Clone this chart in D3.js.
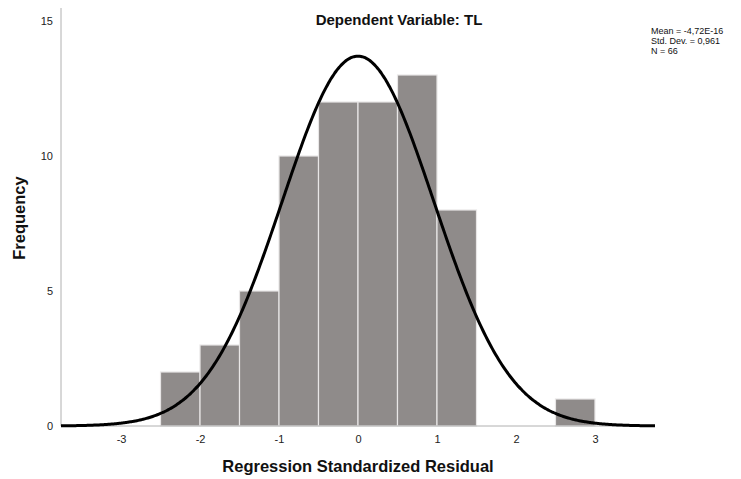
<!DOCTYPE html>
<html>
<head>
<meta charset="utf-8">
<script src="https://cdn.jsdelivr.net/npm/d3@7"></script>
<style>
  body { margin: 0; background: #fff; }
  svg { display: block; font-family: Arial, "Liberation Sans", sans-serif; }
</style>
</head>
<body>
<svg id="chart" width="741" height="479"></svg>
<script>
// Histogram of regression standardized residuals (bin width 0.5)
const binStarts = [-2.5, -2.0, -1.5, -1.0, -0.5, 0.0, 0.5, 1.0, 2.5];
const binCounts = [2, 3, 5, 10, 12, 12, 13, 8, 1];
const binWidth = 0.5;
const xTicks = [-3, -2, -1, 0, 1, 2, 3];
const yTicks = [0, 5, 10, 15];
const mean = -4.72e-16;
const stdDev = 0.961;
const n = 66;
const statLines = ["Mean = -4,72E-16", "Std. Dev. = 0,961", "N = 66"];

const svg = d3.select("#chart");
const x = d3.scaleLinear().domain([-3.76, 3.76]).range([61, 655]);
const y = d3.scaleLinear().domain([0, 15]).range([426, 21]);

// bars
svg.append("g").selectAll("rect")
  .data(binStarts.map((s, i) => ({ s, c: binCounts[i] })))
  .join("rect")
  .attr("x", d => x(d.s))
  .attr("y", d => y(d.c))
  .attr("width", d => x(d.s + binWidth) - x(d.s))
  .attr("height", d => y(0) - y(d.c))
  .attr("fill", "#8f8b8a")
  .attr("stroke", "#e8e6e6")
  .attr("stroke-width", 1.2);

// axes (plain hyphen for negative labels)
const xAxis = d3.axisBottom(x).tickValues(xTicks).tickSize(0).tickPadding(9).tickFormat(d => String(d));
const yAxis = d3.axisLeft(y).tickValues(yTicks).tickSize(0).tickPadding(8).tickFormat(d => String(d));

const gx = svg.append("g").attr("transform", `translate(0,${y(0)})`).call(xAxis);
gx.select(".domain").attr("d", `M${x.range()[0]},0H${x.range()[1]}`).attr("stroke", "#b0b0b0");
gx.selectAll("text").attr("font-size", 11).attr("fill", "#222");

const gy = svg.append("g").attr("transform", `translate(${x.range()[0]},0)`).call(yAxis);
gy.select(".domain").attr("d", `M0,${y(0)}V8`).attr("stroke", "#b0b0b0");
gy.selectAll("text").attr("font-size", 11).attr("fill", "#222");

// normal curve scaled to counts
const scale = n * binWidth;
const pts = d3.range(-3.76, 3.7601, 0.02).map(v => [v,
  scale * Math.exp(-0.5 * ((v - mean) / stdDev) ** 2) / (stdDev * Math.sqrt(2 * Math.PI))]);
svg.append("path")
  .datum(pts)
  .attr("fill", "none")
  .attr("stroke", "#000")
  .attr("stroke-width", 3)
  .attr("d", d3.line().x(d => x(d[0])).y(d => y(d[1])).curve(d3.curveBasis));

// titles
svg.append("text").attr("x", 399).attr("y", 25).attr("text-anchor", "middle")
  .attr("font-size", 15).attr("font-weight", "bold").attr("fill", "#111")
  .text("Dependent Variable: TL");
svg.append("text").attr("x", 358).attr("y", 472).attr("text-anchor", "middle")
  .attr("font-size", 16.5).attr("font-weight", "bold").attr("fill", "#111")
  .text("Regression Standardized Residual");
svg.append("text").attr("transform", "translate(25,218) rotate(-90)").attr("text-anchor", "middle")
  .attr("font-size", 16.5).attr("font-weight", "bold").attr("fill", "#111")
  .text("Frequency");

// summary statistics
svg.append("g").selectAll("text").data(statLines).join("text")
  .attr("x", 651).attr("y", (d, i) => 34 + i * 10)
  .attr("font-size", 9).attr("fill", "#111")
  .text(d => d);
</script>
</body>
</html>
